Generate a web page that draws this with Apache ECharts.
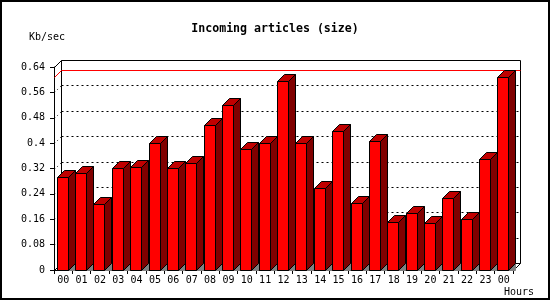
<!DOCTYPE html>
<html>
<head>
<meta charset="utf-8">
<script src="https://cdn.jsdelivr.net/npm/echarts@6/dist/echarts.min.js"></script>
<style>
html,body{margin:0;padding:0;background:#fff;}
#c{width:550px;height:300px;}
</style>
</head>
<body>
<div id="c"></div>
<script>
const hours = ['00','01','02','03','04','05','06','07','08','09','10','11','12','13','14','15','16','17','18','19','20','21','22','23','00'];
const sizeKbps = [0.292,0.305,0.207,0.321,0.324,0.399,0.321,0.336,0.456,0.519,0.380,0.401,0.596,0.399,0.258,0.438,0.210,0.407,0.151,0.180,0.148,0.226,0.160,0.349,0.607];
const yMin = 0, yMax = 0.64, yStep = 0.08;
const titleText = 'Incoming articles (size)';
const yUnit = 'Kb/sec';
const xUnit = 'Hours';

const D = 7;
const MONO = '"DejaVu Sans Mono", "Liberation Mono", monospace';
const maxVal = Math.max.apply(null, sizeKbps);
const r = v => Math.round(v) + 0.5;

const chart = echarts.init(document.getElementById('c'), null, {renderer: 'canvas'});

function frameItem(params, api) {
  const cs = params.coordSys;
  const x0 = Math.round(cs.x) + 0.5, y0 = Math.round(cs.y) + 0.5;
  const x1 = Math.round(cs.x + cs.width) + 0.5, y1 = Math.round(cs.y + cs.height) + 0.5;
  const children = [];
  const black = {stroke: '#000', lineWidth: 1, fill: null};
  children.push({type: 'rect', shape: {x: x0 + D, y: y0 - D, width: x1 - x0, height: y1 - y0}, style: {fill: '#fff', stroke: '#000', lineWidth: 1}});
  const n = Math.round((yMax - yMin) / yStep);
  for (let i = 1; i < n; i++) {
    const v = yMin + i * yStep;
    const y = r(api.coord([0, v])[1]);
    children.push({type: 'line', shape: {x1: x0 + D, y1: y - D, x2: x1 + D, y2: y - D}, style: {stroke: '#000', lineWidth: 1, lineDash: [2, 3]}});
    children.push({type: 'line', shape: {x1: x0, y1: y, x2: x0 + D, y2: y - D}, style: {stroke: '#000', lineWidth: 1, lineDash: [1, 3]}});
  }
  const ym = r(api.coord([0, maxVal])[1]);
  children.push({type: 'line', shape: {x1: x0 + D, y1: ym - D, x2: x1 + D, y2: ym - D}, style: {stroke: '#ff0000', lineWidth: 1}});
  children.push({type: 'line', shape: {x1: x0, y1: ym, x2: x0 + D, y2: ym - D}, style: {stroke: '#ff0000', lineWidth: 1}});
  children.push({type: 'line', shape: {x1: x0, y1: y0, x2: x0 + D, y2: y0 - D}, style: black});
  children.push({type: 'line', shape: {x1: x0, y1: y1, x2: x0 + D, y2: y1 - D}, style: black});
  children.push({type: 'line', shape: {x1: x1, y1: y1, x2: x1 + D, y2: y1 - D}, style: black});
  return {type: 'group', children: children};
}

function barItem(params, api) {
  const idx = api.value(0), val = api.value(1);
  const topPt = api.coord([idx, val]);
  const basePt = api.coord([idx, 0]);
  const bw = api.size([1, 0])[0];
  const xl = r(topPt[0] - bw / 2 + bw * 0.15);
  const xr = r(topPt[0] - bw / 2 + bw * 0.75);
  const yt = r(topPt[1]);
  const yb = r(basePt[1]);
  const st = c => ({fill: c, stroke: '#000', lineWidth: 1});
  return {
    type: 'group',
    children: [
      {type: 'polygon', shape: {points: [[xr, yb], [xr + D, yb - D], [xr + D, yb]]}, style: {fill: '#808080', stroke: '#808080', lineWidth: 1}},
      {type: 'polygon', shape: {points: [[xr, yt], [xr + D, yt - D], [xr + D, yb - D], [xr, yb]]}, style: st('#800000')},
      {type: 'polygon', shape: {points: [[xl, yt], [xl + D, yt - D], [xr + D, yt - D], [xr, yt]]}, style: st('#c00000')},
      {type: 'rect', shape: {x: xl, y: yt, width: xr - xl, height: yb - yt}, style: st('#ff0000')}
    ]
  };
}

const option = {
  animation: false,
  backgroundColor: '#fff',
  title: {
    text: titleText, left: 'center', top: 18,
    textStyle: {fontFamily: MONO, fontWeight: 'bold', fontSize: 11.6, color: '#000'}
  },
  grid: {left: 54, right: 37, top: 67, bottom: 30},
  xAxis: {
    type: 'category', data: hours, boundaryGap: true,
    axisLine: {show: true, lineStyle: {color: '#000', width: 1}},
    axisTick: {show: true, length: 4, lineStyle: {color: '#000'}},
    axisLabel: {fontFamily: MONO, fontSize: 10, color: '#000', margin: 5, interval: 0},
    splitLine: {show: false}
  },
  yAxis: {
    type: 'value', min: yMin, max: yMax, interval: yStep,
    axisLine: {show: true, lineStyle: {color: '#000', width: 1}},
    axisTick: {show: true, length: 4, lineStyle: {color: '#000'}},
    axisLabel: {fontFamily: MONO, fontSize: 10, color: '#000', margin: 9},
    splitLine: {show: false}
  },
  graphic: [
    {type: 'rect', shape: {x: 1, y: 1, width: 548, height: 298}, style: {fill: null, stroke: '#000', lineWidth: 2}, z: 100},
    {type: 'text', left: 29, top: 32, style: {text: yUnit, font: '10px ' + MONO, fill: '#000'}},
    {type: 'text', left: 504, top: 287, style: {text: xUnit, font: '10px ' + MONO, fill: '#000'}}
  ],
  series: [
    {type: 'custom', renderItem: frameItem, data: [[0, 0]], z: 1, silent: true, clip: false},
    {type: 'custom', renderItem: barItem, data: sizeKbps.map((v, i) => [i, v]), z: 2, silent: true, clip: false}
  ]
};
chart.setOption(option);
</script>
</body>
</html>
